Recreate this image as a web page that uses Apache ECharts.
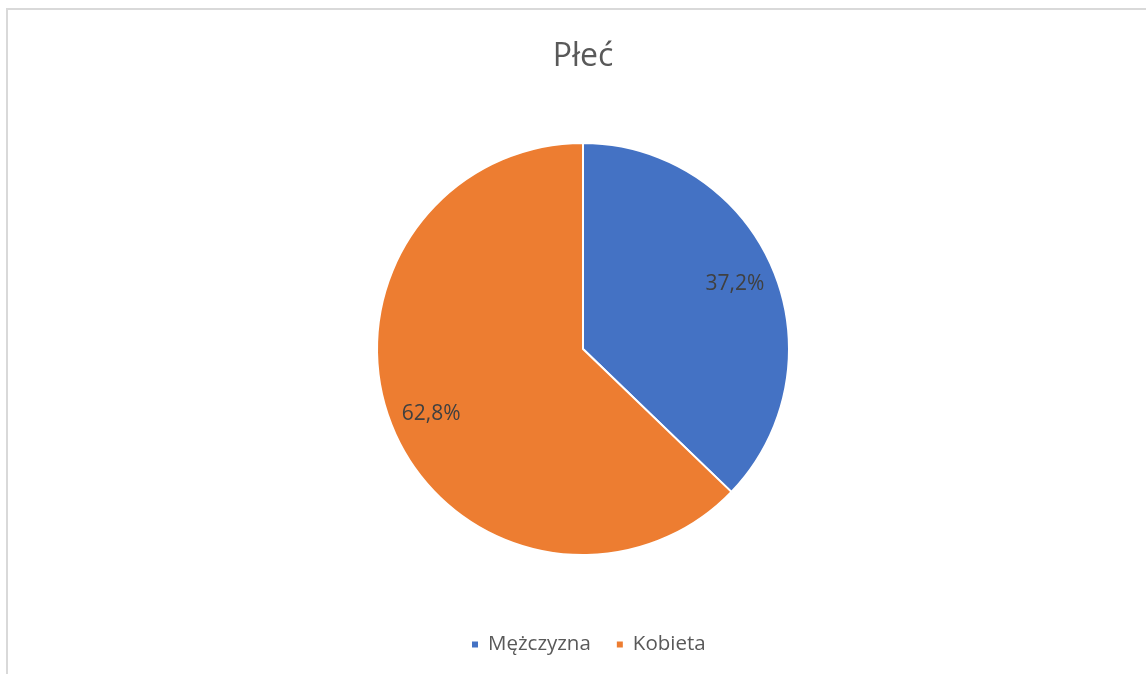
<!DOCTYPE html>
<html>
<head>
<meta charset="utf-8">
<script src="https://cdn.jsdelivr.net/npm/echarts@6/dist/echarts.min.js"></script>
<style>
html,body{margin:0;padding:0;width:1146px;height:674px;overflow:hidden;background:#fff;}
#frame{position:absolute;left:6px;top:8px;width:1200px;height:700px;border:2px solid #d9d9d9;box-sizing:border-box;}
#chart{position:absolute;left:10px;top:0;width:1146px;height:674px;}
</style>
</head>
<body>
<div id="frame"></div>
<div id="chart"></div>
<script>
const titleText = 'Płeć';
const categories = ['Mężczyzna', 'Kobieta'];
const values = [37.2, 62.8];
const colors = ['#4472c4', '#ed7d31'];

const chart = echarts.init(document.getElementById('chart'), null, {renderer: 'canvas'});
const fontFam = '"Open Sans", "Liberation Sans", sans-serif';
const data = categories.map((c, i) => ({name: c, value: values[i], itemStyle: {color: colors[i]}}));
const labelData = categories.map((c, i) => ({name: c, value: values[i], itemStyle: {color: 'rgba(0,0,0,0)'}}));

chart.setOption({
  animation: false,
  title: {
    text: titleText,
    left: 'center',
    top: 36,
    textStyle: {fontFamily: fontFam, fontSize: 32, fontWeight: 'normal', color: '#595959'}
  },
  legend: {
    data: categories.map((c, i) => ({name: c, itemStyle: {color: colors[i]}})),
    top: 629,
    left: 455,
    icon: 'rect',
    itemWidth: 8,
    itemHeight: 8,
    itemGap: 24,
    textStyle: {fontFamily: fontFam, fontSize: 20.5, color: '#595959', padding: [0, 0, 0, 4]}
  },
  series: [
    {
      type: 'pie',
      center: ['50%', 349],
      radius: [0, 206],
      startAngle: 90,
      clockwise: true,
      data: data,
      label: {show: false},
      labelLine: {show: false},
      itemStyle: {borderColor: '#fff', borderWidth: 2},
      emphasis: {disabled: true},
      silent: true
    },
    {
      type: 'pie',
      center: ['50%', 349],
      radius: [122, 202],
      startAngle: 90,
      clockwise: true,
      data: labelData,
      z: 5,
      label: {
        show: true,
        position: 'inside',
        formatter: p => p.value.toFixed(1).replace('.', ',') + '%',
        fontFamily: fontFam,
        fontSize: 21,
        color: '#404040'
      },
      labelLine: {show: false},
      itemStyle: {borderWidth: 0},
      emphasis: {disabled: true},
      silent: true
    }
  ]
});
</script>
</body>
</html>
